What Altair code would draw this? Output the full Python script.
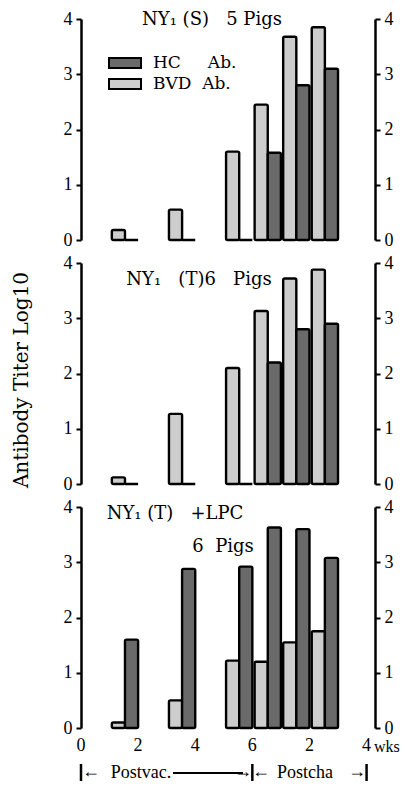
import altair as alt
import pandas as pd

# ---- data ----
weeks = [2, 4, 6, 7, 8, 9]            # week of sampling (7,8,9 = 1,2,3 wks post-challenge)
series = ["HC Ab.", "BVD Ab."]
panel_titles = [["NY\u2081 (S)\u00a0\u00a0\u00a05 Pigs"],
                ["NY\u2081\u00a0\u00a0\u00a0(T)6\u00a0\u00a0\u00a0Pigs"],
                ["NY\u2081 (T)\u00a0\u00a0\u00a0+LPC", "6\u00a0\u00a0Pigs"]]
bvd_s = [0.18, 0.55, 1.6, 2.45, 3.68, 3.85]
hc_s = [0.0, 0.0, 0.0, 1.58, 2.8, 3.1]
bvd_t = [0.12, 1.27, 2.1, 3.13, 3.72, 3.88]
hc_t = [0.0, 0.0, 0.0, 2.2, 2.8, 2.9]
bvd_l = [0.1, 0.5, 1.22, 1.2, 1.55, 1.75]
hc_l = [1.6, 2.88, 2.92, 3.63, 3.6, 3.08]
x_ticks = list(range(11))
x_label_pos = [0, 2, 4, 6, 8, 10]
x_label_text = ["0", "2", "4", "6", "2", "4"]
y_ticks = [0, 1, 2, 3, 4]
y_title = "Antibody Titer Log10"
phase_labels = ["Postvac.", "Postcha"]
phase_bounds = [0, 6, 10]

W, H = 287, 221
SERIF = "Liberation Serif"
SERIF2 = "DejaVu Serif"
xscale = alt.Scale(domain=[0, 10.05], nice=False, zero=False)
yscale = alt.Scale(domain=[0, 4], nice=False)
cscale = alt.Scale(domain=series, range=["#6a6a6a", "#cdcdcd"])


def make_df(bvd, hc):
    rows = []
    for w, b, h in zip(weeks, bvd, hc):
        rows.append({"week": w, "series": "BVD Ab.", "value": b, "x0": w - 0.92, "x1": w - 0.46})
        rows.append({"week": w, "series": "HC Ab.", "value": h, "x0": w - 0.46, "x1": w})
    return pd.DataFrame(rows)


x_axis = alt.Axis(values=x_ticks, title=None, grid=False, labels=False,
                  domainColor="black", domainWidth=2.5, tickColor="black",
                  tickWidth=2, tickSize=4)


def y_axis(orient):
    return alt.Axis(orient=orient, values=y_ticks, title=None, grid=False,
                    domainColor="black", domainWidth=2.5, tickColor="black",
                    tickWidth=2, tickSize=5, offset=7 if orient == "right" else 0,
                    labelFont=SERIF, labelFontSize=18, labelColor="black",
                    labelPadding=4, labelFlush=False)


def text_layer(s, x, y, size=18, angle=0, font=SERIF2, align="center"):
    return alt.Chart(pd.DataFrame({"t": [s]})).mark_text(
        font=font, fontSize=size, color="black", angle=angle,
        align=align, baseline="middle").encode(
        text="t:N", x=alt.value(x), y=alt.value(y))


def panel(bvd, hc, legend, texts):
    base = alt.Chart(make_df(bvd, hc))
    bars = base.mark_rect(stroke="black", strokeWidth=2.4, cornerRadius=1.5).encode(
        x=alt.X("x0:Q", scale=xscale, axis=x_axis),
        x2="x1",
        y=alt.Y("value:Q", scale=yscale, axis=y_axis("left")),
        y2=alt.datum(0),
        color=alt.Color("series:N", scale=cscale, legend=legend),
    )
    right = base.mark_rect(opacity=0).encode(
        x=alt.X("x0:Q", scale=xscale, axis=None),
        x2="x1",
        y=alt.Y("value:Q", scale=yscale, axis=y_axis("right")),
        y2=alt.datum(0),
    )
    layers = [bars, right] + texts
    return alt.layer(*layers).resolve_axis(y="independent").properties(width=W, height=H)


legend1 = alt.Legend(orient="none", legendX=33, legendY=33, title=None,
                     symbolType="M-1.6,-0.5H1.6V0.5H-1.6Z", symbolSize=400,
                     symbolStrokeColor="black", symbolStrokeWidth=2, symbolOpacity=1,
                     labelFont=SERIF2, labelFontSize=17, labelColor="black",
                     labelOffset=17, rowPadding=1,
                     labelExpr="datum.label == 'HC Ab.' ? 'HC\u00a0\u00a0\u00a0\u00a0\u00a0Ab.' : 'BVD\u00a0\u00a0Ab.'")

p1 = panel(bvd_s, hc_s, legend1, [text_layer(panel_titles[0][0], 131, 1)])
p2 = panel(bvd_t, hc_t, None, [text_layer(panel_titles[1][0], 118, 17),
                               text_layer(y_title, -59, 117, size=20, angle=270)])

# bottom: x labels and phase annotation (panel 3)
yb = 266
x_labels = alt.Chart(pd.DataFrame({"pos": x_label_pos, "lab": x_label_text})).mark_text(
    font=SERIF, fontSize=18, color="black", baseline="middle").encode(
    x=alt.X("pos:Q", scale=xscale, axis=None), y=alt.value(H + 18), text="lab:N")
phase_rules = alt.Chart(pd.DataFrame({"w": phase_bounds})).mark_rule(
    color="black", strokeWidth=2.5).encode(
    x=alt.X("w:Q", scale=xscale, axis=None), y=alt.value(yb - 9), y2=alt.value(yb + 8))
arrow_line = alt.Chart(pd.DataFrame({"a": [1]})).mark_rule(color="black", strokeWidth=2).encode(
    x=alt.value(92), x2=alt.value(162), y=alt.value(yb))
p3_texts = [
    text_layer(panel_titles[2][0], 94, 7),
    text_layer(panel_titles[2][1], 142, 40),
    x_labels,
    text_layer("wks", 293, H + 19, size=16, font=SERIF, align="left"),
    text_layer(phase_labels[0], 60, yb, size=18, font=SERIF),
    text_layer(phase_labels[1], 224, yb, size=18, font=SERIF),
    text_layer("\u2190", 10, yb - 1, size=18, font=SERIF),
    text_layer("\u2192", 162, yb - 1, size=18, font=SERIF),
    text_layer("\u2190", 180, yb - 1, size=18, font=SERIF),
    text_layer("\u2192", 276, yb - 1, size=18, font=SERIF),
    phase_rules, arrow_line,
]
p3 = panel(bvd_l, hc_l, None, p3_texts)

chart = alt.vconcat(p1, p2, p3, spacing=23, bounds="flush").resolve_scale(
    color="independent").configure_view(stroke=None).properties(
    background="white", padding={"left": 3, "top": 2, "right": 2, "bottom": 0})

chart.save("out.html", embed_options={"renderer": "svg", "actions": False})
